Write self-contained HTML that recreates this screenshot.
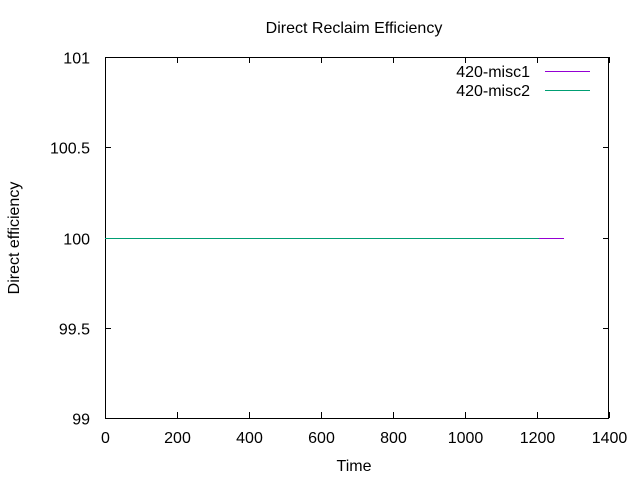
<!DOCTYPE html>
<html><head><style>
body{margin:0;background:#fff;font-family:"Liberation Sans",sans-serif;}
svg text{font-family:"Liberation Sans",sans-serif;font-size:16px;fill:#000;}
</style></head><body>
<svg width="640" height="480">
<text x="354" y="33" text-anchor="middle" font-size="16">Direct Reclaim Efficiency</text>
<text x="354" y="471" text-anchor="middle">Time</text>
<text transform="translate(19,238) rotate(-90)" text-anchor="middle">Direct efficiency</text>
<g id="ticks"></g>
<rect x="105.5" y="57.5" width="503" height="361" fill="none" stroke="#000" stroke-width="1"/>
<g id="series"></g>
<text x="530" y="77" text-anchor="end">420-misc1</text>
<line x1="545" y1="71.5" x2="590" y2="71.5" style="stroke:#9400d3" shape-rendering="crispEdges"/>
<text x="530" y="96" text-anchor="end">420-misc2</text>
<line x1="545" y1="90.5" x2="590" y2="90.5" style="stroke:#009e73" shape-rendering="crispEdges"/>
</svg>
<script>
const xTicks=[0,200,400,600,800,1000,1200,1400];
const yTicks=[99,99.5,100,100.5,101];
const yTickLabels=["99","99.5","100","100.5","101"];
const misc1X=[0,1275];
const misc1Y=[100,100];
const misc2X=[0,1205];
const misc2Y=[100,100];
const X0=105,X1=609,Y0=418,Y1=57;
const sx=v=>X0+(v-0)/(1400-0)*(X1-X0);
const sy=v=>Y0-(v-99)/(101-99)*(Y0-Y1);
const NS="http://www.w3.org/2000/svg";
const tg=document.getElementById('ticks');
function mk(t,a,p){const e=document.createElementNS(NS,t);for(const k in a)e.setAttribute(k,a[k]);p.appendChild(e);return e;}
xTicks.forEach(v=>{const x=Math.round(sx(v))+0.5;
 const l1=mk('line',{x1:x,y1:Y0,x2:x,y2:Y0-6,stroke:'#000'},tg);
 
 
 const l2=mk('line',{x1:x,y1:Y1,x2:x,y2:Y1+6,stroke:'#000'},tg);
 
 
 const t=mk('text',{x:x,y:443,'text-anchor':'middle'},tg);t.textContent=v;
 
 
});
yTicks.forEach((v,i)=>{const y=Math.round(sy(v))+0.5;
 const l1=mk('line',{x1:X0,y1:y,x2:X0+6,y2:y,stroke:'#000'},tg);
 
 
 const l2=mk('line',{x1:X1,y1:y,x2:X1-6,y2:y,stroke:'#000'},tg);
 
 
 const t=mk('text',{x:90,y:y+6,'text-anchor':'end'},tg);t.textContent=yTickLabels[i];
 
 
});
const sg=document.getElementById('series');
function drawSeries(xs,ys,c,n){
 const p=document.createElementNS(NS,'polyline');
 p.setAttribute('points',xs.map((x,i)=>sx(x)+','+(Math.round(sy(ys[i]))+0.5)).join(' '));
 p.setAttribute('fill','none');
 p.setAttribute('style','stroke:'+c+';stroke-width:1');
 p.setAttribute('shape-rendering','crispEdges');
 
 
 sg.appendChild(p);}
drawSeries(misc1X,misc1Y,'#9400d3','line-misc1');
drawSeries(misc2X,misc2Y,'#009e73','line-misc2');
</script>
</body></html>
